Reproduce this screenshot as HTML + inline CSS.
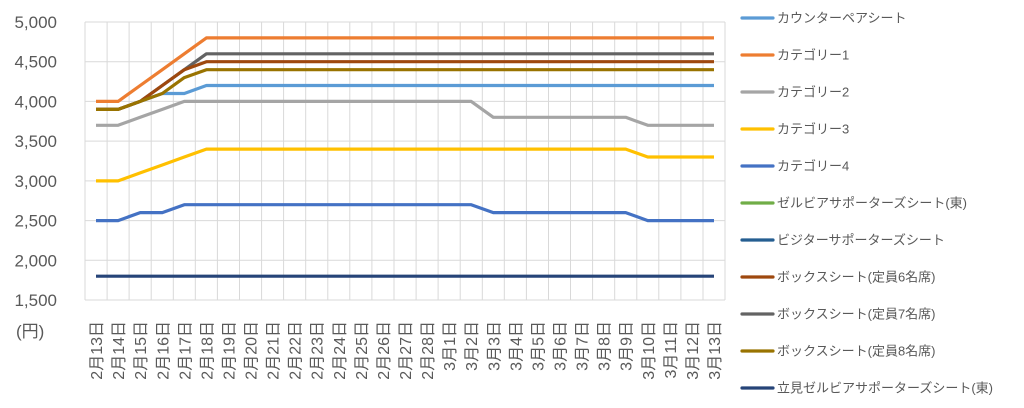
<!DOCTYPE html>
<html><head><meta charset="utf-8"><style>
body{margin:0;background:#fff}
svg{display:block}
text{font-family:"Liberation Sans","Noto Sans CJK JP",sans-serif;fill:#595959}
.y{font-size:17px;text-anchor:end}
.x{font-size:16px;text-anchor:end}
.l{font-size:13px}
polyline{fill:none;stroke-width:3.2;stroke-linejoin:round}
</style></head><body>
<svg width="1024" height="408" viewBox="0 0 1024 408">
<g stroke="#d9d9d9" stroke-width="1">
<line x1="85" y1="22" x2="725" y2="22"/><line x1="85" y1="61.7" x2="725" y2="61.7"/><line x1="85" y1="101.4" x2="725" y2="101.4"/><line x1="85" y1="141.1" x2="725" y2="141.1"/><line x1="85" y1="180.9" x2="725" y2="180.9"/><line x1="85" y1="220.6" x2="725" y2="220.6"/><line x1="85" y1="260.3" x2="725" y2="260.3"/><line x1="85" y1="300" x2="725" y2="300"/>
<line x1="85" y1="22" x2="85" y2="300"/><line x1="107.1" y1="22" x2="107.1" y2="300"/><line x1="129.1" y1="22" x2="129.1" y2="300"/><line x1="151.2" y1="22" x2="151.2" y2="300"/><line x1="173.3" y1="22" x2="173.3" y2="300"/><line x1="195.3" y1="22" x2="195.3" y2="300"/><line x1="217.4" y1="22" x2="217.4" y2="300"/><line x1="239.5" y1="22" x2="239.5" y2="300"/><line x1="261.6" y1="22" x2="261.6" y2="300"/><line x1="283.6" y1="22" x2="283.6" y2="300"/><line x1="305.7" y1="22" x2="305.7" y2="300"/><line x1="327.8" y1="22" x2="327.8" y2="300"/><line x1="349.8" y1="22" x2="349.8" y2="300"/><line x1="371.9" y1="22" x2="371.9" y2="300"/><line x1="394" y1="22" x2="394" y2="300"/><line x1="416.1" y1="22" x2="416.1" y2="300"/><line x1="438.1" y1="22" x2="438.1" y2="300"/><line x1="460.2" y1="22" x2="460.2" y2="300"/><line x1="482.3" y1="22" x2="482.3" y2="300"/><line x1="504.3" y1="22" x2="504.3" y2="300"/><line x1="526.4" y1="22" x2="526.4" y2="300"/><line x1="548.5" y1="22" x2="548.5" y2="300"/><line x1="570.5" y1="22" x2="570.5" y2="300"/><line x1="592.6" y1="22" x2="592.6" y2="300"/><line x1="614.7" y1="22" x2="614.7" y2="300"/><line x1="636.8" y1="22" x2="636.8" y2="300"/><line x1="658.8" y1="22" x2="658.8" y2="300"/><line x1="680.9" y1="22" x2="680.9" y2="300"/><line x1="703" y1="22" x2="703" y2="300"/><line x1="725" y1="22" x2="725" y2="300"/>
</g>
<g>
<text class="y" x="57" y="28">5,000</text><text class="y" x="57" y="67.7">4,500</text><text class="y" x="57" y="107.4">4,000</text><text class="y" x="57" y="147.1">3,500</text><text class="y" x="57" y="186.9">3,000</text><text class="y" x="57" y="226.6">2,500</text><text class="y" x="57" y="266.3">2,000</text><text class="y" x="57" y="306">1,500</text>
<text x="16" y="337" style="font-size:17px">(円)</text>
</g>
<polyline stroke="#264478" points="96,276.2 714,276.2"/>
<polyline stroke="#4472C4" points="96,220.6 118.1,220.6 140.2,212.6 162.3,212.6 184.3,204.7 471.2,204.7 493.3,212.6 625.7,212.6 647.8,220.6 714,220.6"/>
<polyline stroke="#FFC000" points="96,180.9 118.1,180.9 140.2,172.9 162.3,165 184.3,157 206.4,149.1 625.7,149.1 647.8,157 714,157"/>
<polyline stroke="#A5A5A5" points="96,125.3 118.1,125.3 140.2,117.3 162.3,109.4 184.3,101.4 471.2,101.4 493.3,117.3 625.7,117.3 647.8,125.3 714,125.3"/>
<polyline stroke="#5B9BD5" points="96,109.4 118.1,109.4 140.2,101.4 162.3,93.5 184.3,93.5 206.4,85.5 714,85.5"/>
<polyline stroke="#636363" points="96,109.4 118.1,109.4 140.2,101.4 162.3,85.5 184.3,69.7 206.4,53.8 714,53.8"/>
<polyline stroke="#9E480E" points="96,109.4 118.1,109.4 140.2,101.4 162.3,85.5 184.3,69.7 206.4,61.7 714,61.7"/>
<polyline stroke="#997300" points="96,109.4 118.1,109.4 140.2,101.4 162.3,93.5 184.3,77.6 206.4,69.7 714,69.7"/>
<polyline stroke="#ED7D31" points="96,101.4 118.1,101.4 140.2,85.5 162.3,69.7 184.3,53.8 206.4,37.9 714,37.9"/>
<g>
<text class="x" transform="translate(102,321) rotate(-90)">2月13日</text>
<text class="x" transform="translate(124.1,321) rotate(-90)">2月14日</text>
<text class="x" transform="translate(146.2,321) rotate(-90)">2月15日</text>
<text class="x" transform="translate(168.3,321) rotate(-90)">2月16日</text>
<text class="x" transform="translate(190.3,321) rotate(-90)">2月17日</text>
<text class="x" transform="translate(212.4,321) rotate(-90)">2月18日</text>
<text class="x" transform="translate(234.5,321) rotate(-90)">2月19日</text>
<text class="x" transform="translate(256.5,321) rotate(-90)">2月20日</text>
<text class="x" transform="translate(278.6,321) rotate(-90)">2月21日</text>
<text class="x" transform="translate(300.7,321) rotate(-90)">2月22日</text>
<text class="x" transform="translate(322.7,321) rotate(-90)">2月23日</text>
<text class="x" transform="translate(344.8,321) rotate(-90)">2月24日</text>
<text class="x" transform="translate(366.9,321) rotate(-90)">2月25日</text>
<text class="x" transform="translate(389,321) rotate(-90)">2月26日</text>
<text class="x" transform="translate(411,321) rotate(-90)">2月27日</text>
<text class="x" transform="translate(433.1,321) rotate(-90)">2月28日</text>
<text class="x" transform="translate(455.2,321) rotate(-90)">3月1日</text>
<text class="x" transform="translate(477.2,321) rotate(-90)">3月2日</text>
<text class="x" transform="translate(499.3,321) rotate(-90)">3月3日</text>
<text class="x" transform="translate(521.4,321) rotate(-90)">3月4日</text>
<text class="x" transform="translate(543.5,321) rotate(-90)">3月5日</text>
<text class="x" transform="translate(565.5,321) rotate(-90)">3月6日</text>
<text class="x" transform="translate(587.6,321) rotate(-90)">3月7日</text>
<text class="x" transform="translate(609.7,321) rotate(-90)">3月8日</text>
<text class="x" transform="translate(631.7,321) rotate(-90)">3月9日</text>
<text class="x" transform="translate(653.8,321) rotate(-90)">3月10日</text>
<text class="x" transform="translate(675.9,321) rotate(-90)">3月11日</text>
<text class="x" transform="translate(698,321) rotate(-90)">3月12日</text>
<text class="x" transform="translate(720,321) rotate(-90)">3月13日</text>
</g>
<g stroke-width="3.2" stroke-linecap="round">
<line x1="742" y1="18" x2="773" y2="18" stroke="#5B9BD5"/>
<line x1="742" y1="55" x2="773" y2="55" stroke="#ED7D31"/>
<line x1="742" y1="92" x2="773" y2="92" stroke="#A5A5A5"/>
<line x1="742" y1="129" x2="773" y2="129" stroke="#FFC000"/>
<line x1="742" y1="166" x2="773" y2="166" stroke="#4472C4"/>
<line x1="742" y1="203" x2="773" y2="203" stroke="#70AD47"/>
<line x1="742" y1="240" x2="773" y2="240" stroke="#255E91"/>
<line x1="742" y1="277" x2="773" y2="277" stroke="#9E480E"/>
<line x1="742" y1="314" x2="773" y2="314" stroke="#636363"/>
<line x1="742" y1="351" x2="773" y2="351" stroke="#997300"/>
<line x1="742" y1="388" x2="773" y2="388" stroke="#264478"/>
</g>
<g>
<text class="l" x="777" y="22.5">カウンターペアシート</text>
<text class="l" x="777" y="59.5">カテゴリー1</text>
<text class="l" x="777" y="96.5">カテゴリー2</text>
<text class="l" x="777" y="133.5">カテゴリー3</text>
<text class="l" x="777" y="170.5">カテゴリー4</text>
<text class="l" x="777" y="207.5">ゼルビアサポーターズシート(東)</text>
<text class="l" x="777" y="244.5">ビジターサポーターズシート</text>
<text class="l" x="777" y="281.5">ボックスシート(定員6名席)</text>
<text class="l" x="777" y="318.5">ボックスシート(定員7名席)</text>
<text class="l" x="777" y="355.5">ボックスシート(定員8名席)</text>
<text class="l" x="777" y="392.5">立見ゼルビアサポーターズシート(東)</text>
</g>
</svg>
</body></html>
